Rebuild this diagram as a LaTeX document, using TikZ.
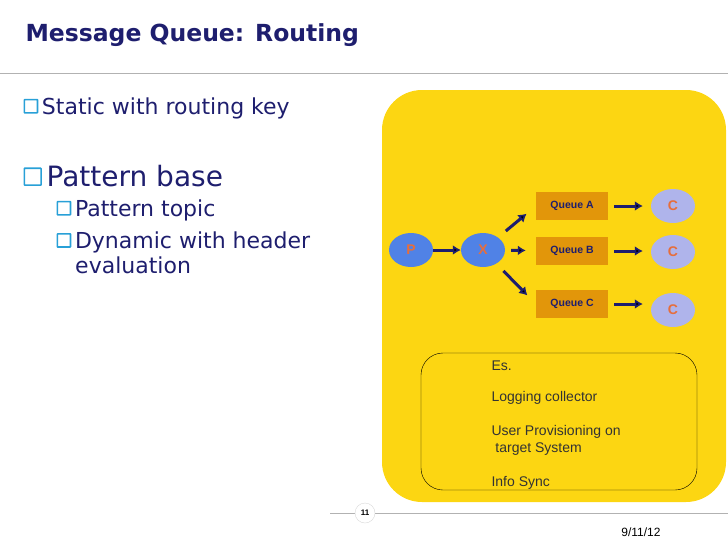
\documentclass[tikz,border=0pt]{standalone}
\usepackage{fontspec}
\setmainfont{DejaVu Sans}
\newfontfamily\arialfont{Liberation Sans}
\usetikzlibrary{shapes,arrows,arrows.meta,positioning}
\definecolor{navy}{RGB}{30,30,110}
\definecolor{slideyellow}{RGB}{252,214,18}
\definecolor{queuebox}{RGB}{226,150,10}
\definecolor{pblue}{RGB}{80,130,230}
\definecolor{cblue}{RGB}{175,180,235}
\definecolor{letter}{RGB}{230,110,60}
\definecolor{bulletblue}{RGB}{40,160,215}

\newcommand{\qbox}{\raisebox{0.02em}{\tikz\draw[bulletblue,line width=1.6pt,fill=white,rounded corners=0.5pt] (0,0) rectangle (0.6em,0.6em);}}

\begin{document}
\begin{tikzpicture}[x=1pt,y=-1pt,
    endpoint/.style={ellipse, fill=pblue, minimum width=44pt, minimum height=34pt, text=letter, font=\arialfont\bfseries\fontsize{14}{16}\selectfont},
    consumer/.style={ellipse, fill=cblue, minimum width=44pt, minimum height=34pt, text=letter, font=\arialfont\bfseries\fontsize{14}{16}\selectfont},
    queue/.style={rectangle, fill=queuebox, minimum width=72pt, minimum height=28pt, text=navy, font=\arialfont\bfseries\fontsize{10.5}{12}\selectfont},
    line/.style={draw=navy, line width=3pt, -{Latex[length=8pt,width=10pt]}},
    bullet/.style={anchor=west, text=navy, align=left}
  ]
    \useasboundingbox (0,0) rectangle (728,546);
    % header and footer
    \node[anchor=west, text=navy, font=\bfseries\fontsize{23.5}{27}\selectfont] (title) at (22,35) {Message Queue: Routing};
    \draw[gray!60, line width=1pt] (0,73) -- (728,73);
    \fill[slideyellow, rounded corners=40pt] (382,90) rectangle (726,502);
    \draw[gray!60, line width=1pt] (330,513) -- (728,513);
    \node[circle, fill=white, draw=gray!30, minimum size=20pt, inner sep=0pt, font=\arialfont\fontsize{8}{9}\bfseries\selectfont] (page) at (365,513) {11};
    \node[font=\arialfont\fontsize{12}{14}\selectfont] (date) at (641,532) {9/11/12};

    % bullets
    \node[bullet, font=\fontsize{22}{25}\selectfont] (static) at (20,108) {\qbox\,Static with routing key};
    \node[bullet, font=\fontsize{28}{31}\selectfont] (pattern) at (20,176) {\qbox\,Pattern base};
    \node[bullet, font=\fontsize{22}{25}\selectfont] (topic) at (53,210) {\qbox\,Pattern topic};
    \node[bullet, font=\fontsize{22}{25}\selectfont, anchor=north west] (dynamic) at (53,228) {\qbox\,Dynamic with header\\\hspace*{0.85em}evaluation};

    % routing
    \node[endpoint] (p) at (411,250) {P};
    \node[endpoint] (x) at (483,250) {X};
    \node[queue] (qa) at (572,206) {Queue A};
    \node[queue] (qb) at (572,251) {Queue B};
    \node[queue] (qc) at (572,304) {Queue C};
    \node[consumer] (ca) at (673,206) {C};
    \node[consumer] (cb) at (673,252) {C};
    \node[consumer] (cc) at (673,310) {C};

    \path [line] (p) -- (x);
    \path [line, shorten <=6pt, shorten >=10pt] (x) -- (qb);
    \path [line, shorten <=10pt, shorten >=12pt] (x) -- (qa.west);
    \path [line, shorten <=10pt, shorten >=12pt] (x) -- (qc.west);
    \path [line, shorten <=6pt, shorten >=8pt] (qa.east) -- (qa.east -| ca.west);
    \path [line, shorten <=6pt, shorten >=8pt] (qb.east) -- (qb.east -| cb.west);
    \path [line, shorten <=6pt, shorten >=8pt] (qc.east) -- (qc.east -| cc.west);

    % examples
    \draw[black, rounded corners=22pt] (421,353) rectangle (697,490);
    \node[anchor=north west, align=left, font=\arialfont\fontsize{14}{17}\selectfont, text=black!80] (examples) at (488,357)
      {Es.\\[14pt]Logging collector\\[17pt]User Provisioning on\\\ target System\\[17pt]Info Sync};
\end{tikzpicture}
\end{document}
